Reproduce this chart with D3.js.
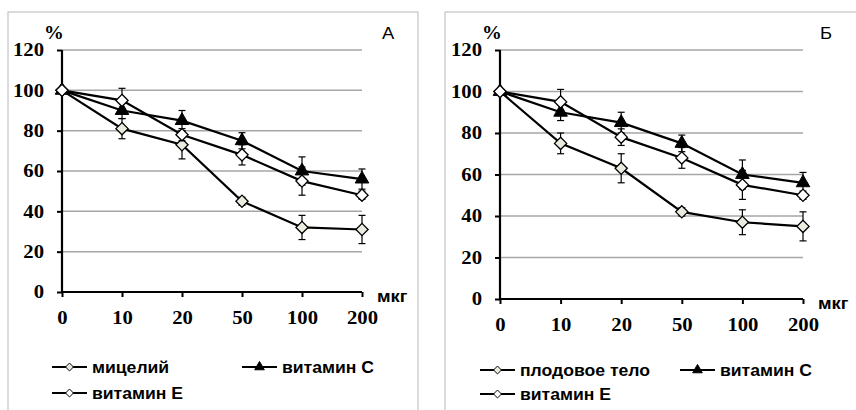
<!DOCTYPE html>
<html>
<head>
<meta charset="utf-8">
<script src="https://cdn.jsdelivr.net/npm/d3@7"></script>
<style>
  body { margin: 0; background: #fff; }
  svg { display: block; }
</style>
</head>
<body>
<script>
// doses, µg
var doses = ["0", "10", "20", "50", "100", "200"];
var yTicks = [0, 20, 40, 60, 80, 100, 120];

// panel A
var myceliumA = [100, 81, 73, 45, 32, 31];
var myceliumAErr = [0, 5, 7, 2, 6, 7];
var vitCA = [100, 90, 85, 75, 60, 56];
var vitCAErr = [0, 4, 5, 4, 7, 5];
var vitEA = [100, 95, 78, 68, 55, 48];
var vitEAErr = [0, 6, 3, 5, 7, 2];

// panel Б
var fruitB = [100, 75, 63, 42, 37, 35];
var fruitBErr = [0, 5, 7, 2, 6, 7];
var vitCB = [100, 90, 85, 75, 60, 56];
var vitCBErr = [0, 4, 5, 4, 7, 5];
var vitEB = [100, 95, 78, 68, 55, 50];
var vitEBErr = [0, 6, 4, 5, 7, 2];

var width = 856, height = 410;

var svg = d3.select("body").append("svg")
    .attr("width", width)
    .attr("height", height);

var serif = "'Liberation Serif', 'Times New Roman', serif";
var sans = "'Liberation Sans', Arial, sans-serif";

// the source picture is stretched sideways a little; text is drawn at (x, y) and widened by k
function wideText(parent, x, y, k) {
  return parent.append("text")
      .attr("transform", "translate(" + x + "," + y + ") scale(" + k + ",1)");
}

function panel(opt) {
  var g = svg.append("g");

  // frame
  g.append("rect")
      .attr("x", opt.box[0]).attr("y", opt.box[1])
      .attr("width", opt.box[2]).attr("height", opt.box[3])
      .attr("fill", "none").attr("stroke", "#c4c4c4").attr("stroke-width", 1.2);

  var x = d3.scalePoint().domain(doses).range([opt.x0, opt.x1]);
  var y = d3.scaleLinear().domain([0, 120]).range([opt.y0, opt.y1]);

  // grid
  g.append("g").selectAll("line")
    .data(yTicks.filter(function(d) { return d > 0; }))
    .enter().append("line")
      .attr("x1", opt.x0).attr("x2", opt.x1)
      .attr("y1", function(d) { return y(d); })
      .attr("y2", function(d) { return y(d); })
      .attr("stroke", "#a6a6a6").attr("stroke-width", 1.5);

  var yAxis = g.append("g")
      .attr("transform", "translate(" + opt.x0 + ",0)")
      .call(d3.axisLeft(y).tickValues(yTicks).tickSize(5).tickPadding(13));
  var xAxis = g.append("g")
      .attr("transform", "translate(0," + opt.y0 + ")")
      .call(d3.axisBottom(x).tickSize(5).tickPadding(14));

  [yAxis, xAxis].forEach(function(a) {
    a.attr("font-family", serif).attr("font-size", 18).attr("font-weight", "bold");
    a.select(".domain").attr("stroke", "#000").attr("stroke-width", 2.2);
    a.selectAll(".tick line").attr("stroke", "#000").attr("stroke-width", 2);
    a.selectAll("text")
        .attr("fill", "#000")
        .style("font-family", serif)
        .style("font-weight", "bold")
        .style("font-size", "18px");
  });
  yAxis.select(".domain").attr("d", "M0," + opt.y0 + "V" + opt.y1);
  xAxis.select(".domain").attr("d", "M" + opt.x0 + ",0H" + opt.x1);

  // widen tick labels around their anchor
  yAxis.selectAll(".tick text")
      .attr("x", null)
      .attr("transform", "translate(-18,0) scale(1.15,1)");
  xAxis.selectAll(".tick text")
      .attr("y", null)
      .attr("dy", "0.7em")
      .attr("transform", "translate(0,19) scale(1.15,1)");

  wideText(g, opt.x0 - 18, 39, 1.1)
      .style("font-family", serif).style("font-weight", "bold").style("font-size", "18px")
      .text("%");
  wideText(g, opt.letterX, 39, 1.15)
      .style("font-family", sans).style("font-size", "16px")
      .text(opt.letter);
  wideText(g, opt.x1 + 15, opt.y0 + 10, 1.15)
      .style("font-family", sans).style("font-weight", "bold").style("font-size", "16px")
      .text("мкг");

  var line = d3.line()
      .x(function(d, i) { return x(doses[i]); })
      .y(function(d) { return y(d); });

  var diamond = d3.symbol().type(d3.symbolDiamond2).size(95);
  var triangle = d3.symbol().type(d3.symbolTriangle).size(80);
  var diamondSmall = d3.symbol().type(d3.symbolDiamond2).size(40);
  var triangleSmall = d3.symbol().type(d3.symbolTriangle).size(40);

  opt.series.forEach(function(s) {
    var sg = g.append("g");
    sg.append("path")
        .datum(s.values)
        .attr("d", line)
        .attr("fill", "none").attr("stroke", "#000").attr("stroke-width", 2.2);

    // error bars
    var eb = sg.append("g").selectAll("g")
      .data(s.values.map(function(v, i) { return {v: v, e: s.err[i], c: doses[i]}; })
        .filter(function(d) { return d.e > 0; }))
      .enter().append("g")
        .attr("stroke", "#000").attr("stroke-width", 1.2);
    eb.append("line")
        .attr("x1", function(d) { return x(d.c); }).attr("x2", function(d) { return x(d.c); })
        .attr("y1", function(d) { return y(d.v + d.e); }).attr("y2", function(d) { return y(d.v - d.e); });
    eb.append("line")
        .attr("x1", function(d) { return x(d.c) - 3.5; }).attr("x2", function(d) { return x(d.c) + 3.5; })
        .attr("y1", function(d) { return y(d.v + d.e); }).attr("y2", function(d) { return y(d.v + d.e); });
    eb.append("line")
        .attr("x1", function(d) { return x(d.c) - 3.5; }).attr("x2", function(d) { return x(d.c) + 3.5; })
        .attr("y1", function(d) { return y(d.v - d.e); }).attr("y2", function(d) { return y(d.v - d.e); });

    sg.append("g").selectAll("path")
      .data(s.values)
      .enter().append("path")
        .attr("transform", function(d, i) { return "translate(" + x(doses[i]) + "," + y(d) + ")"; })
        .attr("d", s.shape === "tri" ? triangle : diamond)
        .attr("fill", s.fill)
        .attr("stroke", "#000")
        .attr("stroke-width", s.shape === "tri" ? 1 : 1.3);
  });

  // legend
  opt.series.forEach(function(s, i) {
    var lx = opt.legend[i][0], ly = opt.legend[i][1];
    var lg = g.append("g").attr("transform", "translate(" + lx + "," + ly + ")");
    lg.append("line")
        .attr("x1", 0).attr("x2", 35).attr("y1", 0).attr("y2", 0)
        .attr("stroke", "#000").attr("stroke-width", 2);
    lg.append("path")
        .attr("transform", "translate(17.5,0)")
        .attr("d", s.shape === "tri" ? triangleSmall : diamondSmall)
        .attr("fill", s.fill).attr("stroke", "#000").attr("stroke-width", 1);
    wideText(lg, 40, 6, 1.1)
        .style("font-family", sans).style("font-weight", "bold").style("font-size", "16px")
        .text(s.name);
  });
}

panel({
  box: [8, 12, 410, 410],
  x0: 62, x1: 362, y0: 292, y1: 50,
  letter: "А", letterX: 382,
  series: [
    {name: "мицелий", values: myceliumA, err: myceliumAErr, shape: "dia", fill: "#ebebdf"},
    {name: "витамин С", values: vitCA, err: vitCAErr, shape: "tri", fill: "#000"},
    {name: "витамин Е", values: vitEA, err: vitEAErr, shape: "dia", fill: "#fff"}
  ],
  legend: [[52, 367], [242, 367], [52, 393]]
});

panel({
  box: [445, 12, 420, 410],
  x0: 500, x1: 803, y0: 299, y1: 50,
  letter: "Б", letterX: 820,
  series: [
    {name: "плодовое тело", values: fruitB, err: fruitBErr, shape: "dia", fill: "#ebebdf"},
    {name: "витамин С", values: vitCB, err: vitCBErr, shape: "tri", fill: "#000"},
    {name: "витамин Е", values: vitEB, err: vitEBErr, shape: "dia", fill: "#fff"}
  ],
  legend: [[480, 370], [680, 370], [480, 394]]
});
</script>
</body>
</html>
